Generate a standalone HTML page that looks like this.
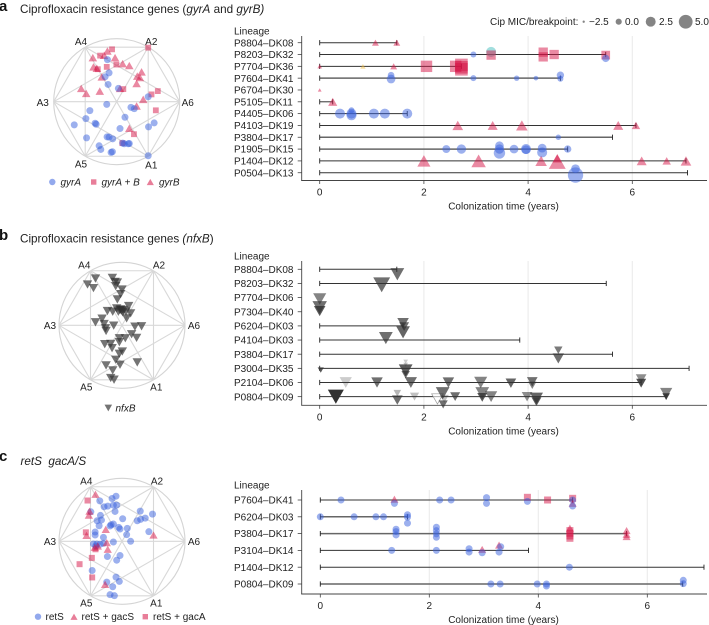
<!DOCTYPE html>
<html lang="en">
<head>
<meta charset="utf-8">
<title>Resistance gene timelines</title>
<style>
html,body{margin:0;padding:0;background:#fff;}
svg{display:block;font-family:"Liberation Sans",sans-serif;fill:#222;filter:blur(.3px);}
text{font-size:10px;}
.ttl{font-size:11.7px;white-space:pre;}
.pl{font-size:15px;font-weight:bold;fill:#111;}
.it{font-style:italic;}
</style>
</head>
<body>
<svg id="fig" width="709" height="625" viewBox="0 0 709 625" xmlns="http://www.w3.org/2000/svg">
  <text class="pl" x="-1" y="11">a</text>
  <text class="ttl" x="20" y="13">Ciprofloxacin resistance genes (<tspan class="it">gyrA</tspan> and <tspan class="it">gyrB)</tspan></text>
  <text class="pl" x="-1" y="240">b</text>
  <text class="ttl" x="20" y="242.5">Ciprofloxacin resistance genes <tspan class="it">(nfxB</tspan>)</text>
  <text class="pl" x="-1" y="461">c</text>
  <text class="ttl it" x="20.5" y="465">retS  gacA/S</text>

  <text x="60.5" y="185.5" class="it">gyrA</text>
  <text x="101.5" y="185.5" class="it">gyrA + B</text>
  <text x="159" y="185.5" class="it">gyrB</text>
  <text x="115.5" y="411.5" class="it">nfxB</text>
  <text x="45.5" y="620">retS</text>
  <text x="81.5" y="620">retS + gacS</text>
  <text x="153" y="620">retS + gacA</text>

  <text x="490" y="25">Cip MIC/breakpoint:</text>
  <text x="589" y="25">−2.5</text>
  <text x="625" y="25">0.0</text>
  <text x="659" y="25">2.5</text>
  <text x="695" y="25">5.0</text>
</svg>
<script>
// ---------- shared values ----------
const xTickValues = [0, 2, 4, 6];
const radarVertexNames = ['A1', 'A2', 'A3', 'A4', 'A5', 'A6'];
const micLegendValues = [-2.5, 0, 2.5, 5];

// ---------- panel a: radar (archetype space, circle radius = 190) ----------
const aRadarGyrA = [[-28,127],[-23,87],[-35,75],[-26,52],[5,40],[-30,-8],[-81,-27],[-93,-51],[-128,-70],[-65,-65],[-62,-68],[-91,-109],[-29,-106],[-23,-107],[-12,-112],[-53,-133],[-48,-144],[-17,-153],[-13,-151],[10,-81],[25,-47],[43,-17],[53,-21],[95,15],[96,-76],[113,-64],[18,-125],[23,-127],[35,-127],[38,-126],[95,-163]];
const aRadarGyrAB = [[-14,158],[95,163],[-50,139],[-30,105],[-57,98],[-1,112],[20,38],[105,22],[124,32],[118,-26],[52,-98],[17,-125]];
const aRadarGyrB = [[-28,153],[-38,140],[-72,133],[-5,133],[18,115],[38,109],[-70,105],[-60,101],[-45,75],[75,90],[62,77],[70,73],[60,55],[-107,40],[-92,25],[-51,32],[10,40],[80,7],[60,-13],[38,-80]];

// ---------- panel b: radar ----------
const bRadarNfxB = [[-29,143],[-80,141],[-104,123],[-86,112],[-21,131],[-14,129],[-19,118],[0,108],[-4,94],[-14,78],[20,58],[-44,43],[-28,41],[-16,51],[-6,46],[-1,44],[4,46],[-11,41],[-4,48],[2,39],[12,41],[26,36],[14,21],[-60,20],[-80,9],[-54,4],[-25,-1],[-50,-9],[-48,-17],[39,-4],[59,-3],[29,-27],[44,-38],[10,-39],[-8,-39],[-8,-51],[-52,-57],[-34,-56],[-30,-69],[1,-79],[-8,-86],[-19,-104],[-6,-119],[46,-112],[-48,-121],[-28,-136],[-34,-159],[-24,-164]];

// ---------- panel c: radar ----------
const cRadarRetS = [[-18,136],[-30,129],[-67,122],[-54,104],[-43,106],[-26,109],[-16,109],[-21,90],[-94,89],[55,91],[92,82],[-65,78],[-75,62],[-62,64],[-69,47],[2,68],[46,62],[56,66],[70,70],[-33,50],[-26,52],[-36,46],[-10,42],[-6,37],[16,39],[-81,28],[-81,19],[81,29],[-56,12],[14,20],[26,0],[-26,-2],[-86,-8],[-76,-8],[-66,-9],[-56,-6],[-79,-14],[-44,-46],[-6,-43],[-16,-57],[-90,-88],[-18,-108],[-8,-121],[-46,-123],[-28,-137],[-36,-161],[-23,-164]];
const cRadarGacS = [[-80,142],[-98,91],[-100,79],[-49,36],[-107,18],[95,19],[-46,-4],[-43,-24],[-73,-14],[-82,-18],[-51,-130]];
const cRadarGacA = [[-104,123],[-109,27],[-80,-24],[-91,-50],[-128,-69],[-90,-109]];

// ---------- panel a: timeline ----------
const aLineages = ['P8804–DK08','P8203–DK32','P7704–DK36','P7604–DK41','P6704–DK30','P5105–DK11','P4405–DK06','P4103–DK19','P3804–DK17','P1905–DK15','P1404–DK12','P0504–DK13'];
const aEnds = [1.48,5.49,2.72,4.62,0,0.25,1.68,6.07,5.62,4.76,7.03,7.06];
// [row, kind, years, MIC, dodge (rows)]
const aEvents = [
 [0,'t',1.07,0,0],[0,'t',1.48,0,0],
 [1,'c',2.95,0,0],[1,'g',3.29,2.7,-.22],[1,'s',3.29,2.2,.05],[1,'s',4.29,2.2,-.2],[1,'s',4.29,2.2,.2],[1,'s',4.5,2.2,0],[1,'s',5.49,1.8,.05],[1,'c',5.49,.9,.33],
 [2,'t',0,-1.3,0],[2,'y',.83,-.9,0],[2,'t',1.42,0,0],[2,'s',2.05,3.6,0],[2,'s',2.61,3.6,0],[2,'s',2.72,4.4,-.12],[2,'s',2.72,4.4,.08],[2,'s',2.72,4.4,.25],
 [3,'c',1.37,.4,-.25],[3,'c',1.37,1.8,.07],[3,'c',2.95,0,0],[3,'c',3.78,-.4,0],[3,'c',4.15,-.9,0],[3,'c',4.62,.9,-.25],[3,'c',4.62,0,.05],
 [4,'t',0,-1.8,0],
 [5,'t',.25,1.3,0],
 [6,'c',.39,2.7,0],[6,'c',.61,0,-.28],[6,'c',.61,2.7,0],[6,'c',.61,2.7,.14],[6,'c',1.04,2.7,0],[6,'c',1.25,2.7,0],[6,'c',1.68,2.7,0],
 [7,'t',2.65,2.2,0],[7,'t',3.32,1.8,0],[7,'t',3.88,2.7,0],[7,'t',5.73,1.8,0],[7,'t',6.07,.9,0],
 [8,'c',4.58,-.4,0],
 [9,'c',2.43,1.3,0],[9,'c',2.72,2.2,0],[9,'c',3.45,1.8,-.28],[9,'c',3.45,2.2,0],[9,'c',3.45,3.6,.33],[9,'c',3.73,1.8,0],[9,'c',3.96,2.7,0],[9,'c',3.96,1.8,.05],[9,'c',4.27,1.8,-.08],[9,'c',4.27,2.7,.28],[9,'c',4.76,.9,0],
 [10,'t',2,3.6,0],[10,'t',3.05,4.4,0],[10,'t',4.25,2.7,0],[10,'t',4.56,1.3,-.2],[10,'t',4.56,5.8,.05],[10,'t',6.18,1.8,0],[10,'t',6.66,.9,0],[10,'t',7.03,2.2,0],
 [11,'c',4.91,1.8,-.34],[11,'c',4.91,6.2,.2]
];

// ---------- panel b: timeline ----------
const bLineages = ['P8804–DK08','P8203–DK32','P7704–DK06','P7304–DK40','P6204–DK03','P4104–DK03','P3804–DK17','P3004–DK35','P2104–DK06','P0804–DK09'];
const bEnds = [1.48,5.5,0,0,1.6,3.84,5.62,7.09,6.17,6.65];
// [row, years, MIC, dodge (rows), grey opacity (0 = hollow)]
const bEvents = [
 [0,1.49,4,.35,.7],
 [1,1.19,5.8,.1,.7],
 [2,0,3.6,.1,.6],
 [3,0,4.4,-.3,.7],[3,0,2.7,-.05,.8],
 [4,1.6,2.7,-.2,.7],[4,1.62,1.8,.05,.7],[4,1.6,4,.45,.75],
 [5,1.27,4,-.14,.7],
 [6,4.58,.9,-.28,.65],[6,4.58,2.7,.3,.7],
 [7,.02,-.4,.12,.8],[7,1.65,-1.3,-.47,.25],[7,1.65,-1.3,-.25,.3],[7,1.65,4,.15,.8],[7,1.65,.9,.45,.7],
 [8,.5,3.1,0,.25],[8,1.1,2.7,0,.7],[8,1.75,3.1,0,.7],[8,2.47,2.7,0,.7],[8,3.09,3.6,0,.6],[8,3.67,2.2,.05,.75],[8,4.08,2.2,-.05,.7],[8,4.08,.9,.2,.6],[8,6.17,2.2,-.25,.55],[8,6.17,1.8,.05,.85],
 [9,.31,5.3,0,1],[9,1.49,.4,-.24,.35],[9,1.49,2.2,.24,.7],[9,1.82,1.3,0,.3],[9,2.26,2.7,.16,0],[9,2.36,4,-.24,.7],[9,2.39,1.3,.16,.3],[9,2.37,1.3,.55,.7],[9,2.6,1.8,0,.7],[9,3.12,4,-.24,.6],[9,3.12,1.8,.05,.8],[9,3.29,3.1,0,.6],[9,3.98,2.2,0,.55],[9,4.16,3.6,.12,.75],[9,4.16,1.8,.35,.8],[9,6.65,3.1,-.24,.6],[9,6.65,.4,0,.9]
];

// ---------- panel c: timeline ----------
const cLineages = ['P7604–DK41','P6204–DK03','P3804–DK17','P3104–DK14','P1404–DK12','P0804–DK09'];
const cEnds = [4.63,1.6,5.62,3.82,7.04,6.65];
// [row, kind, years, dodge (rows)]
const cEvents = [
 [0,'c',.38,0],[0,'t',1.36,-.05],[0,'c',1.36,.2],[0,'c',2.19,0],[0,'c',2.4,0],[0,'c',3.05,-.14],[0,'c',3.05,.2],[0,'s',3.8,-.16],[0,'c',3.8,.08],[0,'s',4.17,0],[0,'s',4.63,-.1],[0,'c',4.63,0],[0,'t',4.63,.2],[0,'c',4.63,.36],
 [1,'c',0,0],[1,'c',.62,0],[1,'c',1.02,0],[1,'c',1.16,0],[1,'c',1.6,-.12],[1,'c',1.6,.02],[1,'c',1.6,.38],
 [2,'c',1.39,-.26],[2,'c',1.39,-.12],[2,'c',1.39,.08],[2,'c',2.13,-.38],[2,'c',2.13,-.18],[2,'c',2.13,.02],[2,'c',2.13,.22],[2,'t',4.58,-.32],[2,'s',4.58,-.18],[2,'s',4.58,-.02],[2,'s',4.58,.14],[2,'s',4.58,.28],[2,'t',5.62,-.18],[2,'t',5.62,.04],[2,'t',5.62,.18],
 [3,'c',1.31,0],[3,'c',2.13,0],[3,'c',2.73,-.1],[3,'c',2.73,.1],[3,'t',2.97,-.06],[3,'c',2.97,.14],[3,'t',3.28,-.32],[3,'c',3.31,-.22],[3,'c',3.28,.1],
 [4,'c',4.57,0],
 [5,'c',3.13,0],[5,'c',3.3,0],[5,'c',3.98,0],[5,'c',4.15,0],[5,'c',4.15,.12],[5,'c',6.66,-.22],[5,'c',6.66,-.02]
];

// ---------- drawing ----------
const svg = document.getElementById('fig');
const NS = 'http://www.w3.org/2000/svg';
const BLUE = 'rgb(58,98,222)';
const RED = 'rgb(214,20,70)';
const TEAL = 'rgb(70,190,190)';
const YELLOW = 'rgb(240,190,70)';
const GREY = 'rgb(50,50,50)';

function node(tag, attrs) {
  const el = document.createElementNS(NS, tag);
  for (const k in attrs) el.setAttribute(k, attrs[k]);
  svg.appendChild(el);
  return el;
}
function micSize(mic) { return 6 + 1.5 * mic; }

function marker(kind, x, y, size, fill, opacity) {
  const w = (kind === 'up' || kind === 'down') ? size * 1.15 : size;
  const h = w * 0.88;
  let el;
  if (kind === 'circle') {
    el = node('circle', {cx: x, cy: y, r: w / 2});
  } else if (kind === 'square') {
    el = node('rect', {x: x - w / 2, y: y - w / 2, width: w, height: w});
  } else if (kind === 'up') {
    el = node('polygon', {points: `${x - w / 2},${y + h / 2} ${x + w / 2},${y + h / 2} ${x},${y - h / 2}`});
  } else {
    el = node('polygon', {points: `${x - w / 2},${y - h / 2} ${x + w / 2},${y - h / 2} ${x},${y + h / 2}`});
  }
  el.setAttribute('fill', fill);
  el.setAttribute('fill-opacity', opacity);
  return el;
}

function drawRadarFrame(cx, cy, panel, labelOffsets) {
  const R = 63;
  const outline = node('circle', {cx: cx, cy: cy, r: R, fill: 'none', stroke: '#d4d4d4', 'stroke-width': 1.1});
  
  
  // vertex angles in the order A1..A6
  const angles = [-60, 60, 180, 120, -120, 0];
  const pts = angles.map(a => [cx + R * Math.cos(a * Math.PI / 180), cy - R * Math.sin(a * Math.PI / 180)]);
  for (let i = 0; i < 6; i++) {
    for (let j = i + 1; j < 6; j++) {
      const edge = node('line', {x1: pts[i][0], y1: pts[i][1], x2: pts[j][0], y2: pts[j][1], stroke: '#d8d8d8', 'stroke-width': 1.1});
      
      
    }
  }
  radarVertexNames.forEach((name, i) => {
    const t = node('text', {x: cx + labelOffsets[i][0], y: cy + labelOffsets[i][1] + 3.6, 'text-anchor': 'middle'});
    t.textContent = name;
    
    
  });
}

function drawRadarPoints(points, kind, cx, cy, size, fill, opacity, name) {
  const scale = 63 / 190;
  points.forEach(p => {
    const el = marker(kind, cx + p[0] * scale, cy - p[1] * scale, size, fill, opacity);
    
    
  });
}

function drawTimelineFrame(cfg) {
  const xs = v => cfg.x0 + v * cfg.perYear;
  const ys = r => cfg.y0 + r * cfg.step;
  xTickValues.forEach(v => {
    if (v === 0) return;
    const g = node('line', {x1: xs(v), x2: xs(v), y1: cfg.top, y2: cfg.bottom, stroke: '#ededed', 'stroke-width': 1.2});
    
    
  });
  const spineY = node('line', {x1: 301.7, x2: 301.7, y1: cfg.top, y2: cfg.bottom, stroke: '#444', 'stroke-width': .9});
  
  
  const spineX = node('line', {x1: 301.2, x2: 707, y1: cfg.bottom, y2: cfg.bottom, stroke: '#444', 'stroke-width': .9});
  
  
  xTickValues.forEach(v => {
    const tick = node('line', {x1: xs(v), x2: xs(v), y1: cfg.bottom, y2: cfg.bottom + 3.5, stroke: '#444', 'stroke-width': .8});
    
    
    const label = node('text', {x: xs(v), y: cfg.bottom + 15, 'text-anchor': 'middle'});
    label.textContent = v;
    
    
  });
  const xt = node('text', {x: 503.5, y: cfg.bottom + 29, 'text-anchor': 'middle'});
  xt.textContent = 'Colonization time (years)';
  
  
  const yt = node('text', {x: 234, y: cfg.top - 1.7});
  yt.textContent = 'Lineage';
  
  

  cfg.lineages.forEach((name, r) => {
    const y = ys(r);
    const tick = node('line', {x1: 297.7, x2: 301.7, y1: y, y2: y, stroke: '#444', 'stroke-width': .8});
    
    
    const label = node('text', {x: 234, y: y + 3.6});
    label.textContent = name;
    
    
    const end = cfg.ends[r];
    if (end > 0) {
      const heavy = cfg.heavy.includes(r);
      const seg = node('line', {x1: xs(0), x2: xs(end), y1: y, y2: y, stroke: heavy ? '#666' : '#333', 'stroke-width': heavy ? 1.5 : 1});
      
      
      [0, end].forEach(v => {
        const cap = node('line', {x1: xs(v), x2: xs(v), y1: y - 2.6, y2: y + 2.6, stroke: '#222', 'stroke-width': .9});
        
        
      });
    }
  });
  return {xs, ys};
}

// panel a
const aFrame = drawTimelineFrame({x0: 319.7, perYear: 52.1, y0: 42.7, step: 11.82, top: 36, bottom: 180.5, lineages: aLineages, ends: aEnds, heavy: [3, 8, 9]});
const aKinds = {c: ['circle', BLUE], s: ['square', RED], t: ['up', RED], g: ['circle', TEAL], y: ['up', YELLOW]};
aEvents.forEach(e => {
  const k = aKinds[e[1]];
  const el = marker(k[0], aFrame.xs(e[2]), aFrame.ys(e[0]) + e[4] * 11.82, micSize(e[3]), k[1], .5);
  
  
});

// panel b
const bFrame = drawTimelineFrame({x0: 319.7, perYear: 52.1, y0: 269.3, step: 14.15, top: 261, bottom: 405.3, lineages: bLineages, ends: bEnds, heavy: []});
bEvents.forEach(e => {
  const el = marker('down', bFrame.xs(e[1]), bFrame.ys(e[0]) + e[3] * 14.15, micSize(e[2]), e[4] === 0 ? '#fff' : GREY, e[4] === 0 ? .6 : e[4]);
  if (e[4] === 0) {
    el.setAttribute('stroke', '#999');
    el.setAttribute('stroke-width', '.7');
  }
  
  
});

// panel c
const cFrame = drawTimelineFrame({x0: 320.3, perYear: 54.5, y0: 500, step: 16.8, top: 490, bottom: 594, lineages: cLineages, ends: cEnds, heavy: [1, 2, 5]});
const cKinds = {c: ['circle', BLUE], s: ['square', RED], t: ['up', RED]};
cEvents.forEach(e => {
  const k = cKinds[e[1]];
  const el = marker(k[0], cFrame.xs(e[2]), cFrame.ys(e[0]) + e[3] * 16.8, 7, k[1], .5);
  
  
});

// radars
drawRadarFrame(116.7, 101.7, 'a', [[34.6,63],[34.6,-60.5],[-74,0.5],[-35.7,-60.5],[-35.7,62],[71,0.5]]);
drawRadarPoints(aRadarGyrB, 'up', 116.7, 101.7, 7.4, RED, .5, 'radar-point-gyrb');
drawRadarPoints(aRadarGyrAB, 'square', 116.7, 101.7, 5.8, RED, .5, 'radar-point-gyra-b');
drawRadarPoints(aRadarGyrA, 'circle', 116.7, 101.7, 7, BLUE, .5, 'radar-point-gyra');

drawRadarFrame(122, 325.3, 'b', [[34.3,61.7],[37,-60.6],[-72,0],[-37.7,-60.6],[-35.7,61.7],[72,0]]);
drawRadarPoints(bRadarNfxB, 'down', 122, 325.3, 8.2, GREY, .68, 'radar-point-nfxb');

drawRadarFrame(122, 541.3, 'c', [[34.3,61.7],[35,-60.6],[-72,0],[-35.7,-60.6],[-35.7,61.7],[72,0]]);
drawRadarPoints(cRadarGacA, 'square', 122, 541.3, 6, RED, .5, 'radar-point-gaca');
drawRadarPoints(cRadarRetS, 'circle', 122, 541.3, 7, BLUE, .5, 'radar-point-rets');
drawRadarPoints(cRadarGacS, 'up', 122, 541.3, 7.2, RED, .5, 'radar-point-gacs');

// legends
const legGyrA = marker('circle', 52.3, 182, 6.4, BLUE, .55);


const legGyrAB = marker('square', 93.7, 182, 5.4, RED, .55);


const legGyrB = marker('up', 150.3, 182, 6.2, RED, .55);


const legNfxB = marker('down', 108.3, 408, 6.6, GREY, .68);


const legRetS = marker('circle', 38, 616.7, 6.4, BLUE, .55);


const legGacS = marker('up', 74, 616.7, 6.2, RED, .55);


const legGacA = marker('square', 145.3, 616.7, 5.4, RED, .55);



const micLegendCentres = [583.7, 618.7, 650.7, 685.7];
micLegendValues.forEach((v, i) => {
  const el = marker('circle', micLegendCentres[i], 21.7, micSize(v) * 1.02, '#777', .9);
  
  
});
</script>
</body>
</html>
